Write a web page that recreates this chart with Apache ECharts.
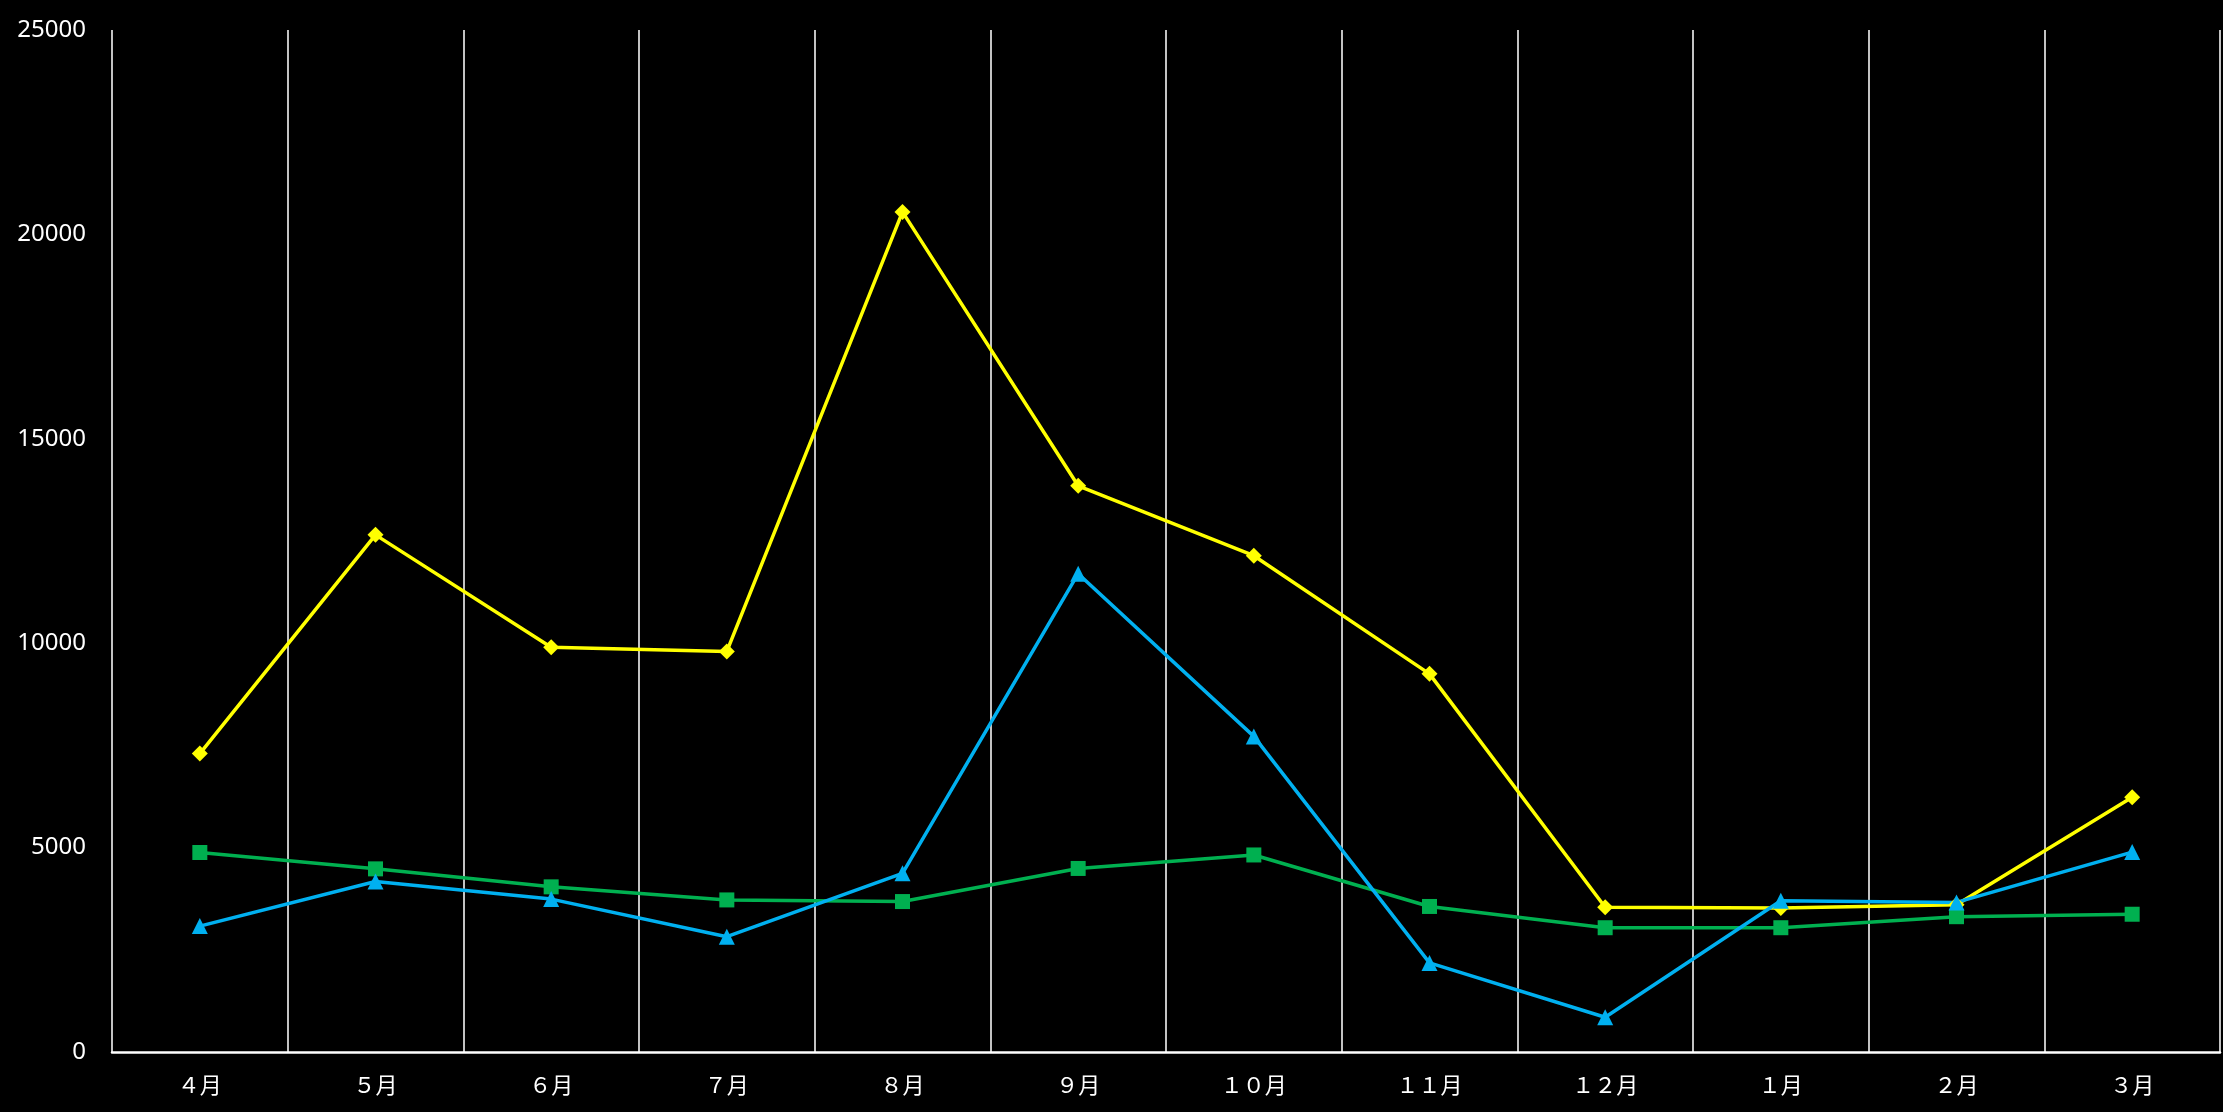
<!DOCTYPE html>
<html>
<head>
<meta charset="utf-8">
<script src="https://cdn.jsdelivr.net/npm/echarts@6/dist/echarts.min.js"></script>
<style>
html,body{margin:0;padding:0;background:#000;}
#c{width:2223px;height:1112px;}
</style>
</head>
<body>
<div id="c"></div>
<script>
const categories = ['４月','５月','６月','７月','８月','９月','１０月','１１月','１２月','１月','２月','３月'];
const yellowSeries = [7300, 12650, 9900, 9800, 20550, 13850, 12140, 9250, 3540, 3520, 3600, 6230];
const greenSeries = [4880, 4480, 4040, 3720, 3680, 4490, 4820, 3560, 3040, 3040, 3310, 3370];
const blueSeries = [3080, 4170, 3740, 2820, 4370, 11700, 7720, 2180, 850, 3700, 3660, 4890];
const yTicks = { min: 0, max: 25000, interval: 5000 };

const chart = echarts.init(document.getElementById('c'), null, {renderer: 'canvas'});
chart.setOption({
  backgroundColor: '#000000',
  animation: false,
  grid: { left: 112, right: 3, top: 30, bottom: 60, containLabel: false },
  xAxis: {
    type: 'category',
    data: categories,
    boundaryGap: true,
    axisLine: { show: true, lineStyle: { color: '#ffffff', width: 2.5 } },
    axisTick: { show: false },
    axisLabel: { color: '#ffffff', fontSize: 22, margin: 22, fontFamily: '"Noto Sans CJK JP", sans-serif' },
    splitLine: { show: true, lineStyle: { color: '#d9d9d9', width: 1.8 } }
  },
  yAxis: {
    type: 'value',
    min: yTicks.min, max: yTicks.max, interval: yTicks.interval,
    axisLine: { show: false },
    axisTick: { show: false },
    splitLine: { show: false },
    axisLabel: { color: '#ffffff', fontSize: 24, margin: 26, fontFamily: '"Noto Sans", sans-serif',
      formatter: function (v) { return String(v); } }
  },
  series: [
    {
      name: 'yellow', type: 'line', data: yellowSeries,
      symbol: 'diamond', symbolSize: 16,
      lineStyle: { color: '#FFFF00', width: 3.5 },
      itemStyle: { color: '#FFFF00' }
    },
    {
      name: 'green', type: 'line', data: greenSeries,
      symbol: 'rect', symbolSize: 15,
      lineStyle: { color: '#00B050', width: 3.5 },
      itemStyle: { color: '#00B050' }
    },
    {
      name: 'blue', type: 'line', data: blueSeries,
      symbol: 'triangle', symbolSize: 16,
      lineStyle: { color: '#00B0F0', width: 3.5 },
      itemStyle: { color: '#00B0F0' }
    }
  ]
});
</script>
</body>
</html>
